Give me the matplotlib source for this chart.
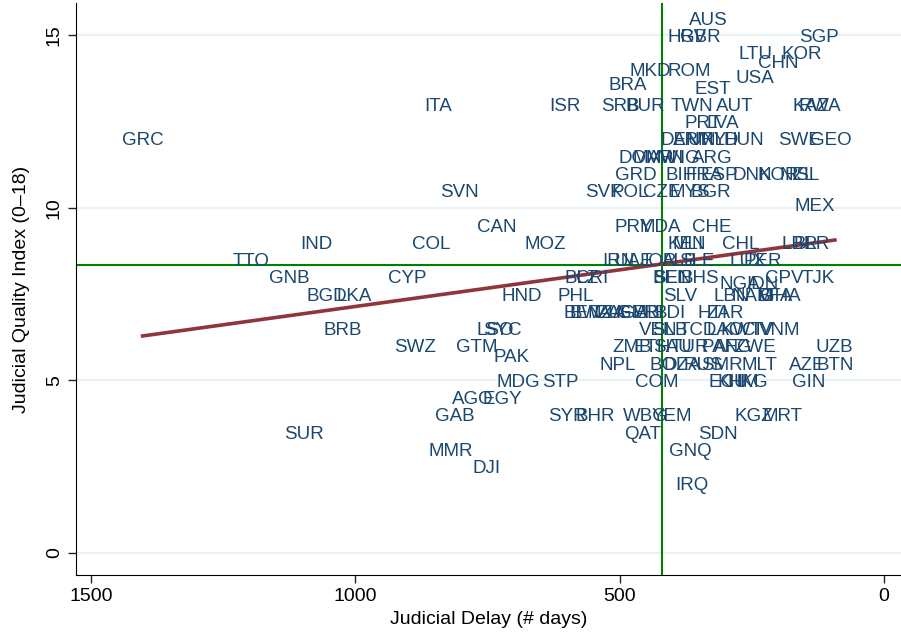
import matplotlib
matplotlib.use("Agg")
import matplotlib.pyplot as plt
import numpy as np

plt.rcParams['font.family'] = ['Liberation Sans', 'DejaVu Sans']

# Country labels, judicial delay (days) and judicial quality index
countries = ['AUS', 'HRV', 'GBR', 'SGP', 'LTU', 'KOR', 'CHN', 'MKD', 'ROM', 'BRA', 'USA', 'EST',
             'SRB', 'BUR', 'TWN', 'AUT', 'KAZ', 'RWA', 'ITA', 'ISR', 'PRT', 'LVA',
             'GRC', 'SWE', 'GEO', 'DEN', 'ARM', 'URY', 'NLD', 'HUN',
             'DOM', 'MAR', 'MWI', 'MNG', 'ARG',
             'GRD', 'BIH', 'FRA', 'ESP', 'DNK', 'NOR', 'NZL', 'ISL',
             'SVN', 'SVK', 'POL', 'CZE', 'MYS', 'BGR', 'MEX',
             'CAN', 'PRY', 'MDA', 'CHE',
             'IND', 'COL', 'MOZ', 'KEN', 'MLI', 'CHL', 'LBR', 'BLR',
             'TTO', 'IRN', 'UAE', 'JOR', 'ALB', 'SLE', 'LUX', 'PER',
             'GNB', 'CYP', 'BLZ', 'CRI', 'BEL', 'SEN', 'BHS', 'CPV', 'TJK', 'NGA', 'IDN',
             'BGD', 'LKA', 'HND', 'PHL', 'SLV', 'LBN', 'NAM', 'BFA', 'GHA',
             'BEN', 'BWA', 'TZA', 'ZAF', 'UGA', 'GMB', 'ERI', 'BDI', 'HTI', 'ZAR',
             'BRB', 'LSO', 'SYC', 'VEN', 'SLB', 'TCD', 'LAO', 'KWT', 'CIV', 'VNM',
             'SWZ', 'GTM', 'ZMB', 'ETH', 'SAU', 'TUR', 'PAN', 'AFG', 'ZWE', 'UZB', 'PAK',
             'NPL', 'BOL', 'DZA', 'RUS', 'SMR', 'MLT', 'AZE', 'BTN',
             'MDG', 'STP', 'COM', 'ECU', 'KHM', 'HKG', 'GIN',
             'AGO', 'EGY', 'GAB', 'SYR', 'BHR', 'WBG', 'YEM', 'KGZ', 'MRT',
             'SUR', 'QAT', 'SDN', 'MMR', 'GNQ', 'DJI', 'IRQ']

delay = [333, 373, 348, 123, 244, 155, 200, 443, 369, 484, 244, 323,
         499, 452, 363, 282, 138, 121, 844, 603, 342, 305,
         1402, 159, 100, 386, 359, 335, 310, 265,
         461, 437, 414, 390, 325,
         469, 384, 340, 312, 250, 200, 165, 148,
         802, 530, 480, 420, 367, 327, 131,
         732, 473, 424, 325,
         1074, 857, 641, 374, 371, 272, 159, 136,
         1197, 503, 473, 427, 386, 354, 257, 229,
         1125, 902, 571, 552, 405, 401, 348, 189, 125, 272, 231,
         1054, 1002, 685, 584, 386, 289, 250, 206, 197,
         569, 556, 522, 511, 484, 465, 446, 405, 325, 301,
         1023, 736, 722, 427, 405, 352, 301, 269, 240, 197,
         887, 770, 477, 439, 401, 367, 310, 286, 244, 95, 704,
         503, 409, 382, 342, 306, 235, 146, 93,
         692, 613, 429, 295, 276, 257, 142,
         777, 722, 811, 598, 547, 452, 401, 246, 193,
         1097, 456, 314, 819, 367, 751, 363]

quality = [15.5, 15, 15, 15, 14.5, 14.5, 14.25, 14, 14, 13.6, 13.8, 13.5,
           13, 13, 13, 13, 13, 13, 13, 13, 12.5, 12.5,
           12, 12, 12, 12, 12, 12, 12, 12,
           11.5, 11.5, 11.5, 11.5, 11.5,
           11, 11, 11, 11, 11, 11, 11, 11,
           10.5, 10.5, 10.5, 10.5, 10.5, 10.5, 10.1,
           9.5, 9.5, 9.5, 9.5,
           9, 9, 9, 9, 9, 9, 9, 9,
           8.5, 8.5, 8.5, 8.5, 8.5, 8.5, 8.5, 8.5,
           8, 8, 8, 8, 8, 8, 8, 8, 8, 7.83, 7.85,
           7.5, 7.5, 7.5, 7.5, 7.5, 7.5, 7.5, 7.5, 7.5,
           7, 7, 7, 7, 7, 7, 7, 7, 7, 7,
           6.5, 6.5, 6.5, 6.5, 6.5, 6.5, 6.5, 6.5, 6.5, 6.5,
           6, 6, 6, 6, 6, 6, 6, 6, 6, 6, 5.71,
           5.5, 5.5, 5.5, 5.5, 5.5, 5.5, 5.5, 5.5,
           5, 5, 5, 5, 5, 5, 5,
           4.5, 4.5, 4, 4, 4, 4, 4, 4, 4,
           3.5, 3.5, 3.5, 3, 3, 2.5, 2]

# sample means and linear fit as shown in the chart (full sample, not only labelled points)
mean_delay = 420
mean_quality = 8.35
fit_slope = -0.002125
fit_intercept = 9.268

x_ticks = [1500, 1000, 500, 0]
y_ticks = [0, 5, 10, 15]

delay = np.array(delay, dtype=float)
quality = np.array(quality, dtype=float)

navy = '#1A476F'
maroon = '#90353B'

fig = plt.figure(figsize=(9.01, 6.37), dpi=100)
ax = fig.add_axes([0.0843, 0.0973, 0.9157, 0.898])

# grid, mean lines, fit line -------------------------------------------
for yt in y_ticks:
    ax.axhline(yt, color='#EAF2F3', linewidth=1.6, zorder=0)
ax.axvline(mean_delay, color='#008000', linewidth=1.5, zorder=2)
ax.axhline(mean_quality, color='#008000', linewidth=1.5, zorder=2)

xf = np.array([delay.max(), delay.min()])
ax.plot(xf, fit_intercept + fit_slope * xf, color=maroon, linewidth=2.6, zorder=3)

# country labels ---------------------------------------------------------
for name, dx, qy in zip(countries, delay, quality):
    ax.text(dx, qy, name, ha='center', va='center_baseline', fontsize=13.5,
            color=navy, zorder=4)

ax.set_xlim(1528, -32)
ax.set_ylim(-0.64, 15.94)
ax.set_xticks(x_ticks)
ax.set_yticks(y_ticks)
ax.tick_params(axis='both', labelsize=14, length=6, width=1, color='#222222')
plt.setp(ax.get_yticklabels(), rotation=90, va='center')
ax.spines['top'].set_visible(False)
ax.spines['right'].set_visible(False)
ax.set_xlabel('Judicial Delay (# days)', fontsize=14, labelpad=4)
ax.set_ylabel('Judicial Quality Index (0\u201318)', fontsize=14, labelpad=11)

fig.savefig('out.png', dpi=100)
